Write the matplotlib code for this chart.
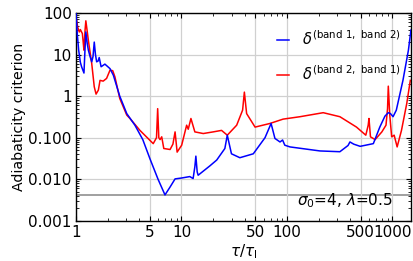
import numpy as np
import matplotlib
matplotlib.use("Agg")
import matplotlib.pyplot as plt
from matplotlib.ticker import FixedLocator, LogLocator, NullFormatter, FixedFormatter

# ---- data ----
blue_x = [1.0, 1.03, 1.06, 1.1, 1.13, 1.19, 1.22, 1.24, 1.28, 1.31, 1.36, 1.41, 1.45, 1.49,
          1.53, 1.57, 1.62, 1.66, 1.73, 1.88, 2.1, 2.26, 2.6, 3.03, 3.62, 4.3, 5.03, 6.0,
          6.98, 7.8, 8.7, 10.0, 12.0, 12.9, 13.4, 13.7, 14.1, 14.4, 18.6, 21.6, 25.8, 27.2,
          29.8, 35.8, 48.0, 62.0, 70.8, 77.0, 86.0, 91.0, 95.5, 107, 206, 318, 380, 396,
          430, 495, 660, 760, 850, 915, 960, 1015, 1090, 1260, 1420, 1500]
blue_y = [100, 30, 12.8, 6.5, 5.1, 3.6, 15, 35, 18, 12.8, 9, 6.7, 9, 20,
          10, 6.7, 7, 8.5, 5.1, 5.9, 4.6, 3.2, 1.0, 0.38, 0.2, 0.09, 0.031, 0.01,
          0.0042, 0.0065, 0.0102, 0.0107, 0.0116, 0.0104, 0.02, 0.036, 0.015, 0.0125, 0.021, 0.029, 0.055, 0.115,
          0.041, 0.033, 0.041, 0.1, 0.22, 0.096, 0.079, 0.088, 0.066, 0.06, 0.048, 0.046, 0.065, 0.079,
          0.07, 0.062, 0.072, 0.18, 0.33, 0.40, 0.38, 0.32, 0.46, 2.4, 12.8, 39]

red_x = [1.0, 1.04, 1.075, 1.1, 1.15, 1.17, 1.19, 1.22, 1.24, 1.28, 1.31, 1.41, 1.49, 1.55,
         1.63, 1.69, 1.81, 1.95, 2.1, 2.23, 2.34, 2.6, 3.03, 3.25, 4.04, 5.4, 5.8, 5.95,
         6.1, 6.27, 6.5, 6.8, 7.8, 8.3, 8.7, 9.1, 10.05, 11.2, 11.6, 12.3, 13.4, 16.1,
         20.0, 24.0, 27.2, 33.4, 38.0, 39.5, 41.5, 49.9, 69.0, 92.0, 133, 221, 318, 457,
         560, 590, 600, 620, 686, 795, 870, 900, 915, 945, 985, 1040, 1110, 1220, 1370, 1480]
red_y = [81, 45, 35, 40, 32, 20, 12.8, 40, 65, 35, 22, 6.1, 1.68, 1.12,
         1.4, 2.4, 2.3, 2.67, 4.2, 4.1, 2.9, 0.88, 0.35, 0.29, 0.15, 0.072, 0.1, 0.5,
         0.1, 0.09, 0.105, 0.055, 0.052, 0.07, 0.138, 0.045, 0.066, 0.2, 0.16, 0.29, 0.138, 0.126,
         0.138, 0.15, 0.115, 0.2, 0.46, 1.25, 0.38, 0.18, 0.22, 0.28, 0.32, 0.4, 0.32, 0.18,
         0.115, 0.2, 0.29, 0.105, 0.09, 0.138, 0.2, 0.5, 1.74, 0.35, 0.105, 0.115, 0.06, 0.15, 0.67, 2.4]

threshold = 0.0042
x_ticks = [1, 5, 10, 50, 100, 500, 1000]
x_ticklabels = ["1", "5", "10", "50", "100", "500", "1000"]
y_ticks = [0.001, 0.01, 0.1, 1, 10, 100]
y_ticklabels = ["0.001", "0.010", "0.100", "1", "10", "100"]

fig = plt.figure(figsize=(4.13, 2.61), dpi=100)
ax = fig.add_axes([0.184, 0.154, 0.811, 0.796])

ax.set_xscale("log")
ax.set_yscale("log")
ax.set_xlim(1, 1500)
ax.set_ylim(0.001, 100)

ax.grid(True, which="major", color="#d0d0d0", lw=0.9)
ax.axhline(threshold, color="#999999", lw=1.3, zorder=1.5)

ax.plot(blue_x, blue_y, color="#0000ff", lw=1.1, label=r"$\delta^{\mathrm{(band\ 1,\ band\ 2)}}$", zorder=3)
ax.plot(red_x, red_y, color="#ff0000", lw=1.1, label=r"$\delta^{\mathrm{(band\ 2,\ band\ 1)}}$", zorder=2)

ax.xaxis.set_major_locator(FixedLocator(x_ticks))
ax.xaxis.set_major_formatter(FixedFormatter(x_ticklabels))
ax.xaxis.set_minor_locator(LogLocator(base=10, subs=np.arange(2, 10) * 1.0, numticks=20))
ax.xaxis.set_minor_formatter(NullFormatter())
ax.yaxis.set_major_locator(FixedLocator(y_ticks))
ax.yaxis.set_major_formatter(FixedFormatter(y_ticklabels))
ax.yaxis.set_minor_locator(LogLocator(base=10, subs=np.arange(2, 10) * 1.0, numticks=20))
ax.yaxis.set_minor_formatter(NullFormatter())

ax.tick_params(which="both", direction="in", top=True, right=True, labelsize=11, pad=3)
ax.tick_params(which="major", length=3.5, width=0.8)
ax.tick_params(which="minor", length=2, width=0.6)
for s in ax.spines.values():
    s.set_linewidth(1.0)

ax.set_ylabel("Adiabaticity criterion", fontsize=10.2, labelpad=2)
ax.set_xlabel(r"$\tau/\tau_{\mathrm{l}}$", fontsize=11, labelpad=2)

ax.text(0.945, 0.095, r"$\sigma_0$=4, $\lambda$=0.5", transform=ax.transAxes,
        ha="right", va="center", fontsize=11)

leg = ax.legend(loc="upper right", bbox_to_anchor=(1.0, 0.97), frameon=False,
                fontsize=10.5, handlelength=0.8, handletextpad=0.9, labelspacing=1.1,
                borderaxespad=0.3)

fig.savefig("out.png", dpi=100)
